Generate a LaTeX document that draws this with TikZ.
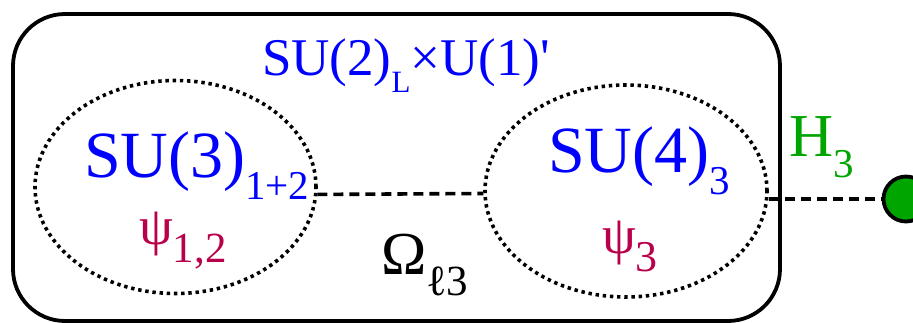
\documentclass[tikz,border=0pt]{standalone}
\usepackage{fontspec}
\setmainfont{Liberation Serif}
\usetikzlibrary{shapes.geometric}
\definecolor{grpblue}{RGB}{0,0,255}
\definecolor{psicol}{RGB}{185,0,75}
\definecolor{hgreen}{RGB}{0,165,0}
\newcommand\mysub[3]{\raisebox{-#2pt}{\fontsize{#1pt}{#1pt}\selectfont #3}}
\begin{document}
\begin{tikzpicture}[x=1pt,y=-1pt,
  lbl/.style={anchor=base west, inner sep=0pt, outer sep=0pt},
  sector/.style={ellipse, draw, line width=3.6pt, dash pattern=on 3.4pt off 3.8pt, inner sep=0pt},
  link/.style={line width=3.6pt, dash pattern=on 10pt off 6pt}]
\useasboundingbox (0,0) rectangle (913,323);
\node[draw, line width=3.8pt, rounded corners=52pt, minimum width=767pt, minimum height=307pt, inner sep=0pt] (box) at (396.5,167.5) {};
\node[sector, minimum width=281pt, minimum height=213pt] (e1) at (175.5,187) {};
\node[sector, minimum width=282pt, minimum height=212pt] (e2) at (626,191) {};
\node[circle, draw, line width=3.8pt, fill=hgreen, minimum size=45pt, inner sep=0pt] (dot) at (906,199) {};
\draw[link] (e1.-3) -- (e2.181);
\draw[link] (e2.east |- dot.west) -- (dot.west);
\node[lbl, text=grpblue, font=\fontsize{53pt}{60pt}\selectfont] (g) at (262,76) {SU(2)\mysub{31}{17}{L}×U(1)\textquotesingle};
\node[lbl, text=grpblue, font=\fontsize{66pt}{70pt}\selectfont] (g1) at (84,178) {SU(3)\mysub{41}{22}{1+2}};
\node[lbl, text=psicol, font=\fontsize{54pt}{60pt}\selectfont] (p1) at (139,244) {ψ\mysub{43}{18}{1,2}};
\node[lbl, text=grpblue, font=\fontsize{66pt}{70pt}\selectfont] (g2) at (548,173) {SU(4)\mysub{41}{22}{3}};
\node[lbl, text=psicol, font=\fontsize{54pt}{60pt}\selectfont] (p2) at (602,254) {ψ\mysub{44}{18}{3}};
\node[lbl, text=black, font=\fontsize{61pt}{66pt}\selectfont] (om) at (381,274) {Ω\mysub{43}{21}{ℓ3}};
\node[lbl, text=hgreen, font=\fontsize{61pt}{66pt}\selectfont] (h) at (789,157) {H\mysub{41}{21}{3}};
\end{tikzpicture}
\end{document}
